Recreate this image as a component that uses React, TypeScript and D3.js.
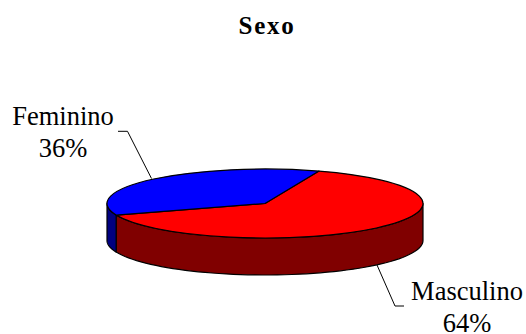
import * as d3 from "d3";

const categories = ["Masculino", "Feminino"];
const shares = [64, 36];
const topColors = ["#ff0000", "#0000ff"];
const sideColors = ["#800000", "#000080"];
const title = "Sexo";

const W = 526;
const H = 334;
const cx = 265;
const cy = 203.5;
const rx = 158;
const ry = 34.5;
const depth = 37;
const serif = "'Liberation Serif', 'Times New Roman', serif";

const pie = d3
  .pie<number>()
  .sort(null)
  .startAngle((20 * Math.PI) / 180)
  .endAngle((380 * Math.PI) / 180);
const slices = pie(shares);
const arc = d3.arc<d3.PieArcDatum<number>>().innerRadius(0).outerRadius(rx);

// Point on the tilted rim; angle runs clockwise from twelve o'clock.
const rim = (a: number, drop = 0): [number, number] => [
  cx + rx * Math.sin(a),
  cy - ry * Math.cos(a) + drop,
];

// Outline of the visible wall between two angles, clipped to the front half.
function wallPath(a0: number, a1: number): string | null {
  const from = Math.max(a0, Math.PI / 2);
  const to = Math.min(a1, (3 * Math.PI) / 2);
  if (to <= from) return null;
  const angles = d3.range(0, 61).map((i) => from + ((to - from) * i) / 60);
  const upper = angles.map((a) => rim(a));
  const lower = angles.map((a) => rim(a, depth)).reverse();
  return d3.line()([...upper, ...lower]) + "Z";
}

type Leader = { points: [number, number][]; x: number; y: number; pct: string; label: string };
const leaders: Leader[] = [
  {
    label: categories[1],
    pct: `${shares[1]}%`,
    x: 63,
    y: 125,
    points: [[151.5, 178.5], [127.5, 131.3], [118, 131.3]],
  },
  {
    label: categories[0],
    pct: `${shares[0]}%`,
    x: 467,
    y: 300,
    points: [[377, 265], [395, 306], [404, 306]],
  },
];

export default function App() {
  const line = d3.line();
  return (
    <svg
      width={W}
      height={H}
      viewBox={`0 0 ${W} ${H}`}
      style={{ position: "absolute", left: 0, top: 0, background: "#fff" }}
    >
      <text
        x={267}
        y={34}
        textAnchor="middle"
        fontFamily={serif}
        fontWeight="bold"
        fontSize={25}
        letterSpacing={1.7}
      >
        {title}
      </text>

      {leaders.map((l) => (
        <path key={l.label} d={line(l.points)!} fill="none" stroke="#000" strokeWidth={1} />
      ))}

      {slices.map((s, i) => {
        const d = wallPath(s.startAngle, s.endAngle);
        return d ? (
          <path key={i} d={d} fill={sideColors[i]} stroke="#000" strokeWidth={1.2} strokeLinejoin="round" />
        ) : null;
      })}

      <g transform={`translate(${cx},${cy}) scale(1,${ry / rx})`}>
        {slices.map((s, i) => (
          <path
            key={i}
            d={arc(s)!}
            fill={topColors[i]}
            stroke="#000"
            strokeWidth={1.2}
            strokeLinejoin="round"
            vectorEffect="non-scaling-stroke"
          />
        ))}
      </g>

      {leaders.map((l) => (
        <text key={l.label} textAnchor="middle" fontFamily={serif} fontSize={26.5} fill="#000">
          <tspan x={l.x} y={l.y}>{l.label}</tspan>
          <tspan x={l.x} y={l.y + 31.5}>{l.pct}</tspan>
        </text>
      ))}
    </svg>
  );
}
